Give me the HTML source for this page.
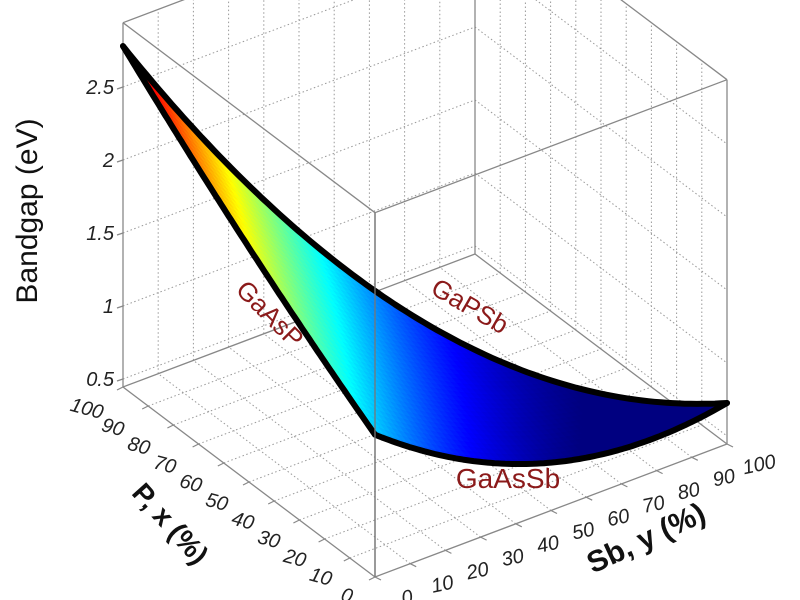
<!DOCTYPE html>
<html><head><meta charset="utf-8"><style>
html,body{margin:0;padding:0;background:#fff;}
svg{display:block;}
text{font-family:"Liberation Sans",sans-serif;}
</style></head><body>
<svg id="svg" width="800" height="600" viewBox="0 0 800 600" xmlns="http://www.w3.org/2000/svg">
<g id="grid"></g>
<g id="surf"></g>
<g id="edges"></g>
<g id="ticks" font-size="20" font-style="italic" fill="#222"></g>
<text x="37" y="211" font-size="30" text-anchor="middle" transform="rotate(-90 37 211)" fill="#111">Bandgap (eV)</text>
<text x="170" y="533" font-size="28" font-weight="bold" text-anchor="middle" transform="rotate(48 170 524)" fill="#111">P, x (%)</text>
<text x="646" y="548" font-size="30" font-weight="bold" text-anchor="middle" transform="rotate(-25 646 538)" fill="#111">Sb, y (%)</text>
<text x="270" y="323" font-size="26" text-anchor="middle" transform="rotate(45 270 314)" fill="#8b1a1a">GaAsP</text>
<text x="470" y="315" font-size="26" text-anchor="middle" transform="rotate(30 470 306)" fill="#8b1a1a">GaPSb</text>
<text x="508" y="488" font-size="28" text-anchor="middle" fill="#8b1a1a">GaAsSb</text>
</svg>
<script>
(function(){
function P(x,y,z){return [375-252*x+352*y, 577-190*x-133*y-(z-0.445)*146];}
function Eg(x,y){var z=1-x-y;return 2.78*x+0.726*y+1.42*z-0.2*x*z-1.2*y*z-2.7*x*y;}
function jet(t){t=Math.max(0,Math.min(1,t));
 function c(v){return Math.round(255*Math.max(0,Math.min(1,v)));}
 var r=1.5-Math.abs(4*t-3),g=1.5-Math.abs(4*t-2),b=1.5-Math.abs(4*t-1);
 return 'rgb('+c(r)+','+c(g)+','+c(b)+')';}
function pt(a){return a[0].toFixed(1)+','+a[1].toFixed(1);}
var zs=[0.5,1,1.5,2,2.5],zTop=2.94,fl=0.445,g='';
function L(a,b,st){return '<line x1="'+a[0].toFixed(1)+'" y1="'+a[1].toFixed(1)+'" x2="'+b[0].toFixed(1)+'" y2="'+b[1].toFixed(1)+'" '+st+'/>';}
var dot='stroke="#999" stroke-width="1" stroke-dasharray="1.5,2.5"';
for(var k=1;k<10;k++){var f=k/10;
 g+=L(P(1,f,fl),P(1,f,zTop),dot);
 g+=L(P(f,1,fl),P(f,1,zTop),dot);
 g+=L(P(f,0,fl),P(f,1,fl),dot);
 g+=L(P(0,f,fl),P(1,f,fl),dot);}
zs.forEach(function(z){g+=L(P(1,0,z),P(1,1,z),dot);g+=L(P(1,1,z),P(0,1,z),dot);});
var sol='stroke="#888" stroke-width="1.3"';
var C=[[0,0],[1,0],[1,1],[0,1]];
for(var i=0;i<4;i++){var a=C[i],b=C[(i+1)%4];
 g+=L(P(a[0],a[1],fl),P(b[0],b[1],fl),sol);
 g+=L(P(a[0],a[1],zTop),P(b[0],b[1],zTop),sol);
 g+=L(P(a[0],a[1],fl),P(a[0],a[1],zTop),sol);}
document.getElementById('grid').innerHTML=g;
var N=60,tris=[];
for(var i=0;i<N;i++)for(var j=0;i+j<N;j++){
 tris.push([[i,j],[i+1,j],[i,j+1]]);
 if(i+j<N-1)tris.push([[i+1,j],[i+1,j+1],[i,j+1]]);}
tris.forEach(function(t){t.d=t.reduce(function(s,p){return s+p[0]+p[1];},0);});
tris.sort(function(a,b){return b.d-a.d;});
var sv='';
tris.forEach(function(t){var e=0,ps=[];
 t.forEach(function(p){var x=p[0]/N,y=p[1]/N,v=Eg(x,y);e+=v;ps.push(pt(P(x,y,v)));});
 var col=jet((e/3-0.726)/(2.85-0.726));
 sv+='<polygon points="'+ps.join(' ')+'" fill="'+col+'" stroke="'+col+'" stroke-width="0.8"/>';});
document.getElementById('surf').innerHTML=sv;
var M=100,e1=[],e2=[],e3=[];
for(var k=0;k<=M;k++){var f=k/M;
 e1.push(pt(P(f,0,Eg(f,0))));e2.push(pt(P(0,f,Eg(0,f))));e3.push(pt(P(1-f,f,Eg(1-f,f))));}
var ed='';
[e1,e2,e3].forEach(function(e){ed+='<polyline points="'+e.join(' ')+'" fill="none" stroke="#000" stroke-width="6" stroke-linejoin="round" stroke-linecap="round"/>';});
ed+=L(P(0,0,fl),P(0,0,zTop),'stroke="#777" stroke-width="1.3"');
document.getElementById('edges').innerHTML=ed;
var tk='';
zs.forEach(function(z){var p=P(1,0,z);tk+=L(p,[p[0]-6,p[1]+2],'stroke="#888" stroke-width="1.2"');
 tk+='<text x="'+(p[0]-9)+'" y="'+(p[1]+7)+'" text-anchor="end">'+z+'</text>';});
for(var k=0;k<=10;k++){var f=k/10,p=P(f,0,fl);
 tk+=L(p,[p[0]-6,p[1]+3],'stroke="#888" stroke-width="1.2"');
 var ox=-28-8*f,oy=18+3*f,cx=p[0]+ox,cy=p[1]+oy;
 tk+='<text x="'+cx.toFixed(1)+'" y="'+(cy+7).toFixed(1)+'" text-anchor="middle" transform="rotate(15 '+cx.toFixed(1)+' '+cy.toFixed(1)+')">'+(k*10)+'</text>';
 var q=P(0,f,fl);
 tk+=L(q,[q[0]+6,q[1]+3],'stroke="#888" stroke-width="1.2"');
 var qx=q[0]+32,qy=q[1]+20;
 tk+='<text x="'+qx.toFixed(1)+'" y="'+(qy+7).toFixed(1)+'" text-anchor="middle" transform="rotate(-12 '+qx.toFixed(1)+' '+qy.toFixed(1)+')">'+(k*10)+'</text>';}
document.getElementById('ticks').innerHTML=tk;
})();
</script>
</body></html>
